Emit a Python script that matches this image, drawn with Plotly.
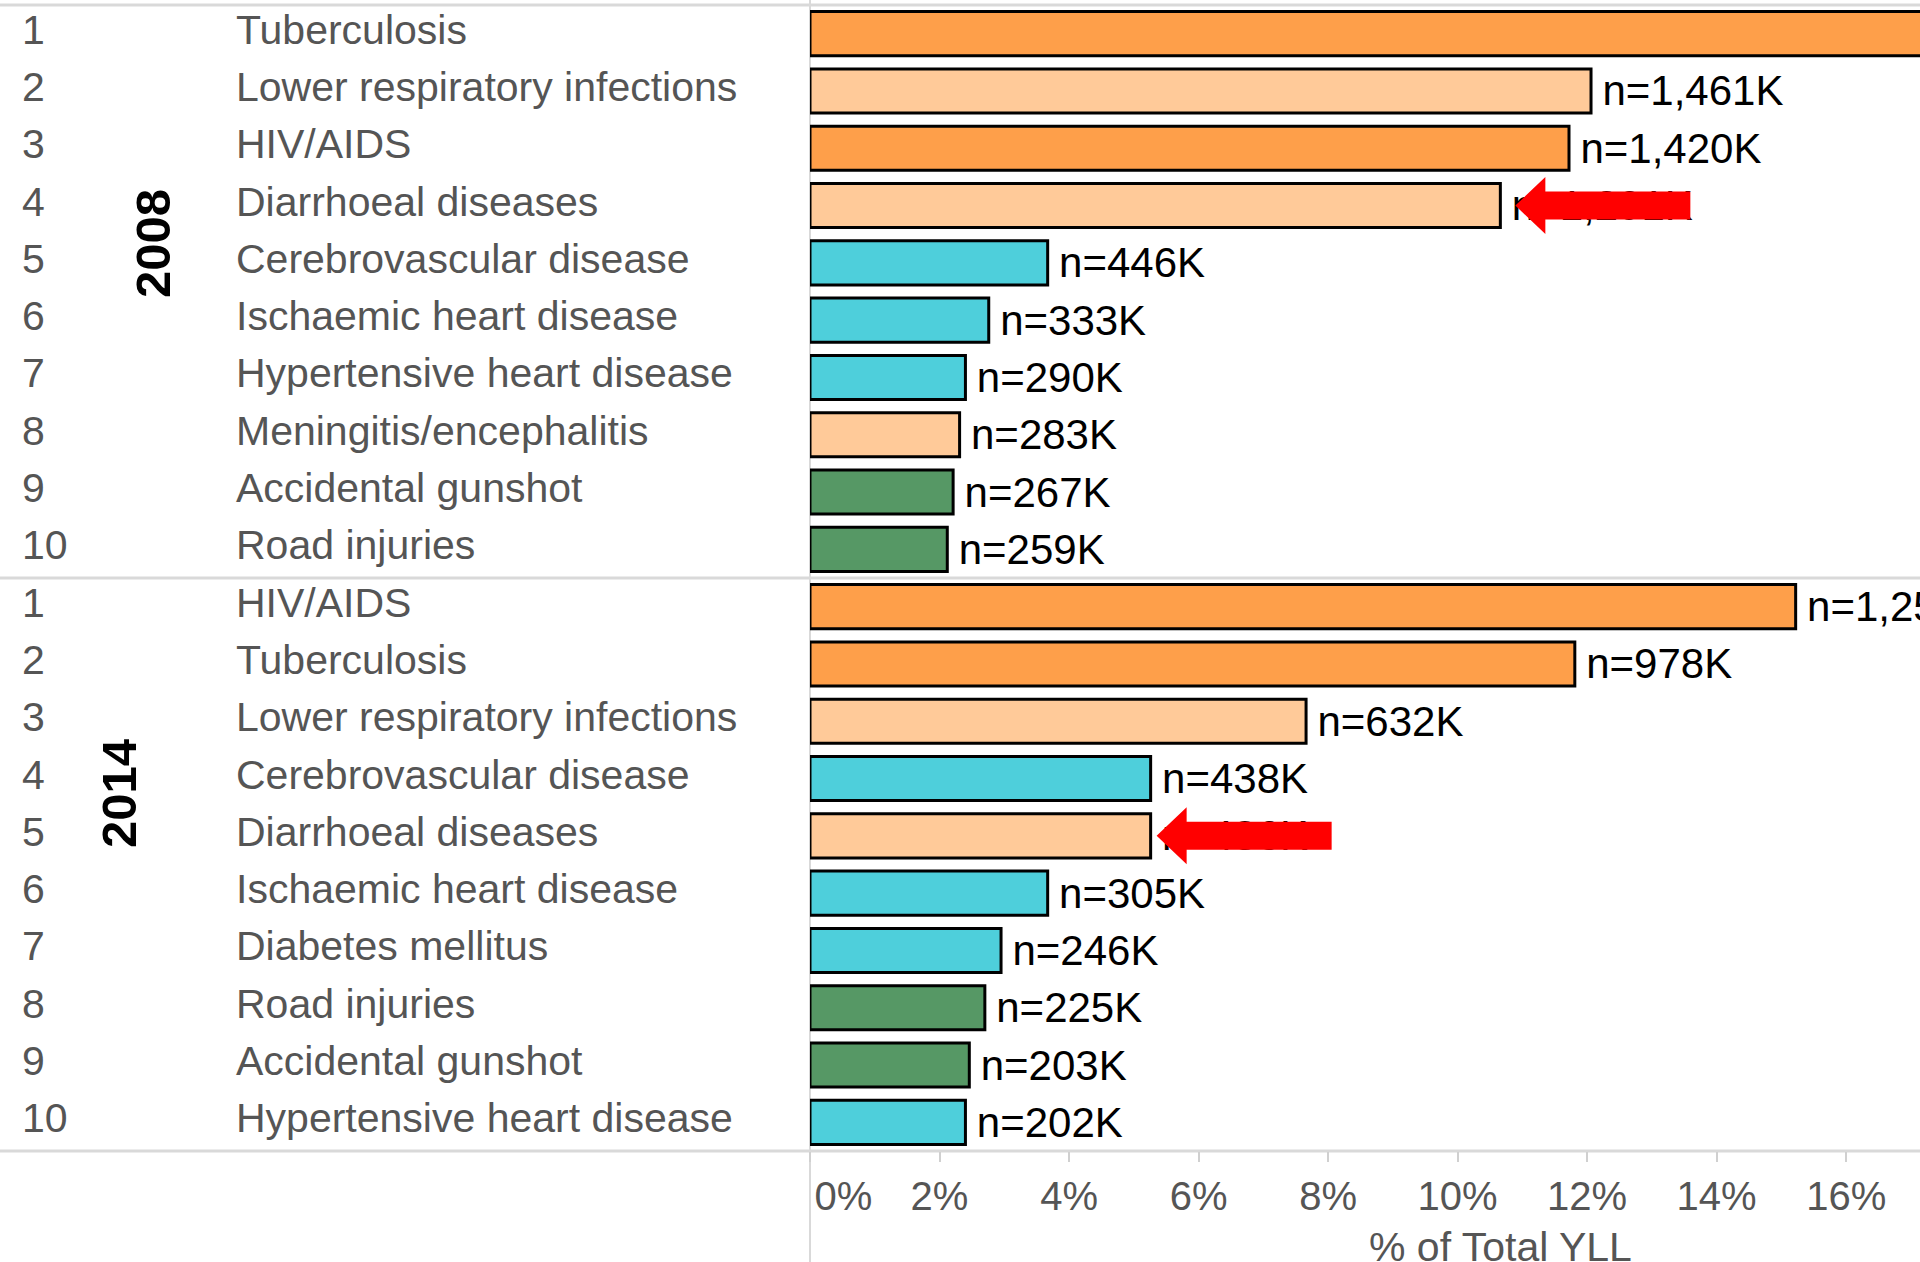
import plotly.graph_objects as go

# ---------------- data ----------------
ranks = [1, 2, 3, 4, 5, 6, 7, 8, 9, 10]

diseases_2008 = ["Tuberculosis", "Lower respiratory infections", "HIV/AIDS",
                 "Diarrhoeal diseases", "Cerebrovascular disease",
                 "Ischaemic heart disease", "Hypertensive heart disease",
                 "Meningitis/encephalitis", "Accidental gunshot", "Road injuries"]
pct_2008 = [19.0, 12.06, 11.72, 10.66, 3.67, 2.76, 2.40, 2.31, 2.21, 2.12]
labels_2008 = ["n=2,302K", "n=1,461K", "n=1,420K", "n=1,291K", "n=446K",
               "n=333K", "n=290K", "n=283K", "n=267K", "n=259K"]

diseases_2014 = ["HIV/AIDS", "Tuberculosis", "Lower respiratory infections",
                 "Cerebrovascular disease", "Diarrhoeal diseases",
                 "Ischaemic heart disease", "Diabetes mellitus", "Road injuries",
                 "Accidental gunshot", "Hypertensive heart disease"]
pct_2014 = [15.22, 11.81, 7.66, 5.26, 5.26, 3.67, 2.95, 2.70, 2.46, 2.40]
labels_2014 = ["n=1,257K", "n=978K", "n=632K", "n=438K", "n=436K",
               "n=305K", "n=246K", "n=225K", "n=203K", "n=202K"]

years = ["2008", "2014"]
x_tickvals = [0, 2, 4, 6, 8, 10, 12, 14, 16]
x_ticktext = ["0%", "2%", "4%", "6%", "8%", "10%", "12%", "14%", "16%"]
x_title = "% of Total YLL"
highlight = "Diarrhoeal diseases"

# ---------------- style ----------------
FONT = "Liberation Sans, Arial, sans-serif"
DARK_OR = "#FE9F4A"
PEACH = "#FFCA99"
CYAN = "#4ECFDB"
GREEN = "#569865"
COLORS = {
    "Tuberculosis": DARK_OR, "HIV/AIDS": DARK_OR,
    "Lower respiratory infections": PEACH, "Diarrhoeal diseases": PEACH,
    "Meningitis/encephalitis": PEACH,
    "Cerebrovascular disease": CYAN, "Ischaemic heart disease": CYAN,
    "Hypertensive heart disease": CYAN, "Diabetes mellitus": CYAN,
    "Accidental gunshot": GREEN, "Road injuries": GREEN,
}
W, H = 1920, 1262
ML, MR, MT, MB = 810, 0, 5, 111
PW = W - ML - MR
PH = H - MT - MB
GRAY_LINE = "#d9d9d9"
TXT_GRAY = "#555555"

def px_to_paper_x(px):
    return (px - ML) / PW

def px_to_paper_y(py):
    return (H - MB - py) / PH

fig = go.Figure()

panels = [
    (diseases_2008, pct_2008, labels_2008, "y"),
    (diseases_2014, pct_2014, labels_2014, "y2"),
]

annotations = []
shapes = []
for names, vals, labs, yax in panels:
    fig.add_trace(go.Bar(
        x=vals, y=ranks, orientation="h", xaxis="x", yaxis=yax,
        width=0.77,
        marker=dict(color=[COLORS[n] for n in names],
                    line=dict(color="black", width=3)),
        text=["\u2009" + l for l in labs],
        textposition="outside",
        textfont=dict(size=42, color="black", family=FONT),
        constraintext="none",
        cliponaxis=False,
        hoverinfo="skip",
        showlegend=False,
    ))
    for r, n in zip(ranks, names):
        annotations.append(dict(
            xref="paper", yref=yax, x=px_to_paper_x(20), y=r, yshift=4,
            text=str(r), showarrow=False, xanchor="left", yanchor="middle",
            font=dict(size=41, color=TXT_GRAY, family=FONT)))
        annotations.append(dict(
            xref="paper", yref=yax, x=px_to_paper_x(234), y=r, yshift=4,
            text=n, showarrow=False, xanchor="left", yanchor="middle",
            font=dict(size=41, color=TXT_GRAY, family=FONT)))
    # red highlight arrow pointing at the Diarrhoeal diseases bar
    i = names.index(highlight)
    dx = 15 if yax == "y" else 6
    hl, head, shaft, length = 30, 28.5, 14, 175
    path = (f"M {dx},0 L {dx+hl},{head} L {dx+hl},{shaft} L {dx+length},{shaft} "
            f"L {dx+length},{-shaft} L {dx+hl},{-shaft} L {dx+hl},{-head} Z")
    shapes.append(dict(type="path", xref="x", yref=yax,
                       xsizemode="pixel", ysizemode="pixel",
                       xanchor=vals[i], yanchor=ranks[i], path=path,
                       fillcolor="#FF0000", line=dict(width=0), layer="above"))

# year labels
annotations.append(dict(xref="paper", yref="paper", x=px_to_paper_x(153),
                        y=px_to_paper_y(244), text="<b>" + years[0] + "</b>",
                        textangle=-90, showarrow=False,
                        xanchor="center", yanchor="middle",
                        font=dict(size=49, color="black", family=FONT)))
annotations.append(dict(xref="paper", yref="paper", x=px_to_paper_x(119),
                        y=px_to_paper_y(794), text="<b>" + years[1] + "</b>",
                        textangle=-90, showarrow=False,
                        xanchor="center", yanchor="middle",
                        font=dict(size=49, color="black", family=FONT)))
# axis title
annotations.append(dict(xref="paper", yref="paper", x=px_to_paper_x(1500),
                        y=px_to_paper_y(1247), text=x_title, showarrow=False,
                        xanchor="center", yanchor="middle",
                        font=dict(size=41, color=TXT_GRAY, family=FONT)))

# separator lines
left = px_to_paper_x(0)
for yy in [1.0, 0.5, 0.0]:
    shapes.append(dict(type="line", xref="paper", yref="paper", x0=left, x1=1,
                       y0=yy, y1=yy, line=dict(color=GRAY_LINE, width=3),
                       layer="below"))
shapes.append(dict(type="line", xref="paper", yref="paper", x0=0, x1=0,
                   y0=px_to_paper_y(0), y1=px_to_paper_y(H),
                   line=dict(color=GRAY_LINE, width=2), layer="below"))

fig.update_layout(
    width=W, height=H,
    margin=dict(l=ML, r=MR, t=MT, b=MB, pad=0),
    paper_bgcolor="white", plot_bgcolor="rgba(0,0,0,0)",
    font=dict(family=FONT),
    xaxis=dict(range=[0, 17.14], anchor="y2", tickvals=x_tickvals,
               ticktext=["\u00a0" * 6 + x_ticktext[0]] + x_ticktext[1:],
               ticks="outside", ticklen=10, tickwidth=2, tickcolor="#d0d0d0",
               tickfont=dict(size=40, color=TXT_GRAY, family=FONT),
               showgrid=False, zeroline=False, showline=False, fixedrange=True),
    yaxis=dict(domain=[0.5, 1], range=[10.5, 0.5], anchor="x",
               showticklabels=False, showgrid=False, zeroline=False,
               ticks="", fixedrange=True),
    yaxis2=dict(domain=[0, 0.5], range=[10.5, 0.5], anchor="x",
                showticklabels=False, showgrid=False, zeroline=False,
                ticks="", fixedrange=True),
    annotations=annotations,
    shapes=shapes,
)

fig.write_html("out.html", config={"displayModeBar": False},
               post_script="document.body.style.margin='0';document.body.style.overflow='hidden';")
